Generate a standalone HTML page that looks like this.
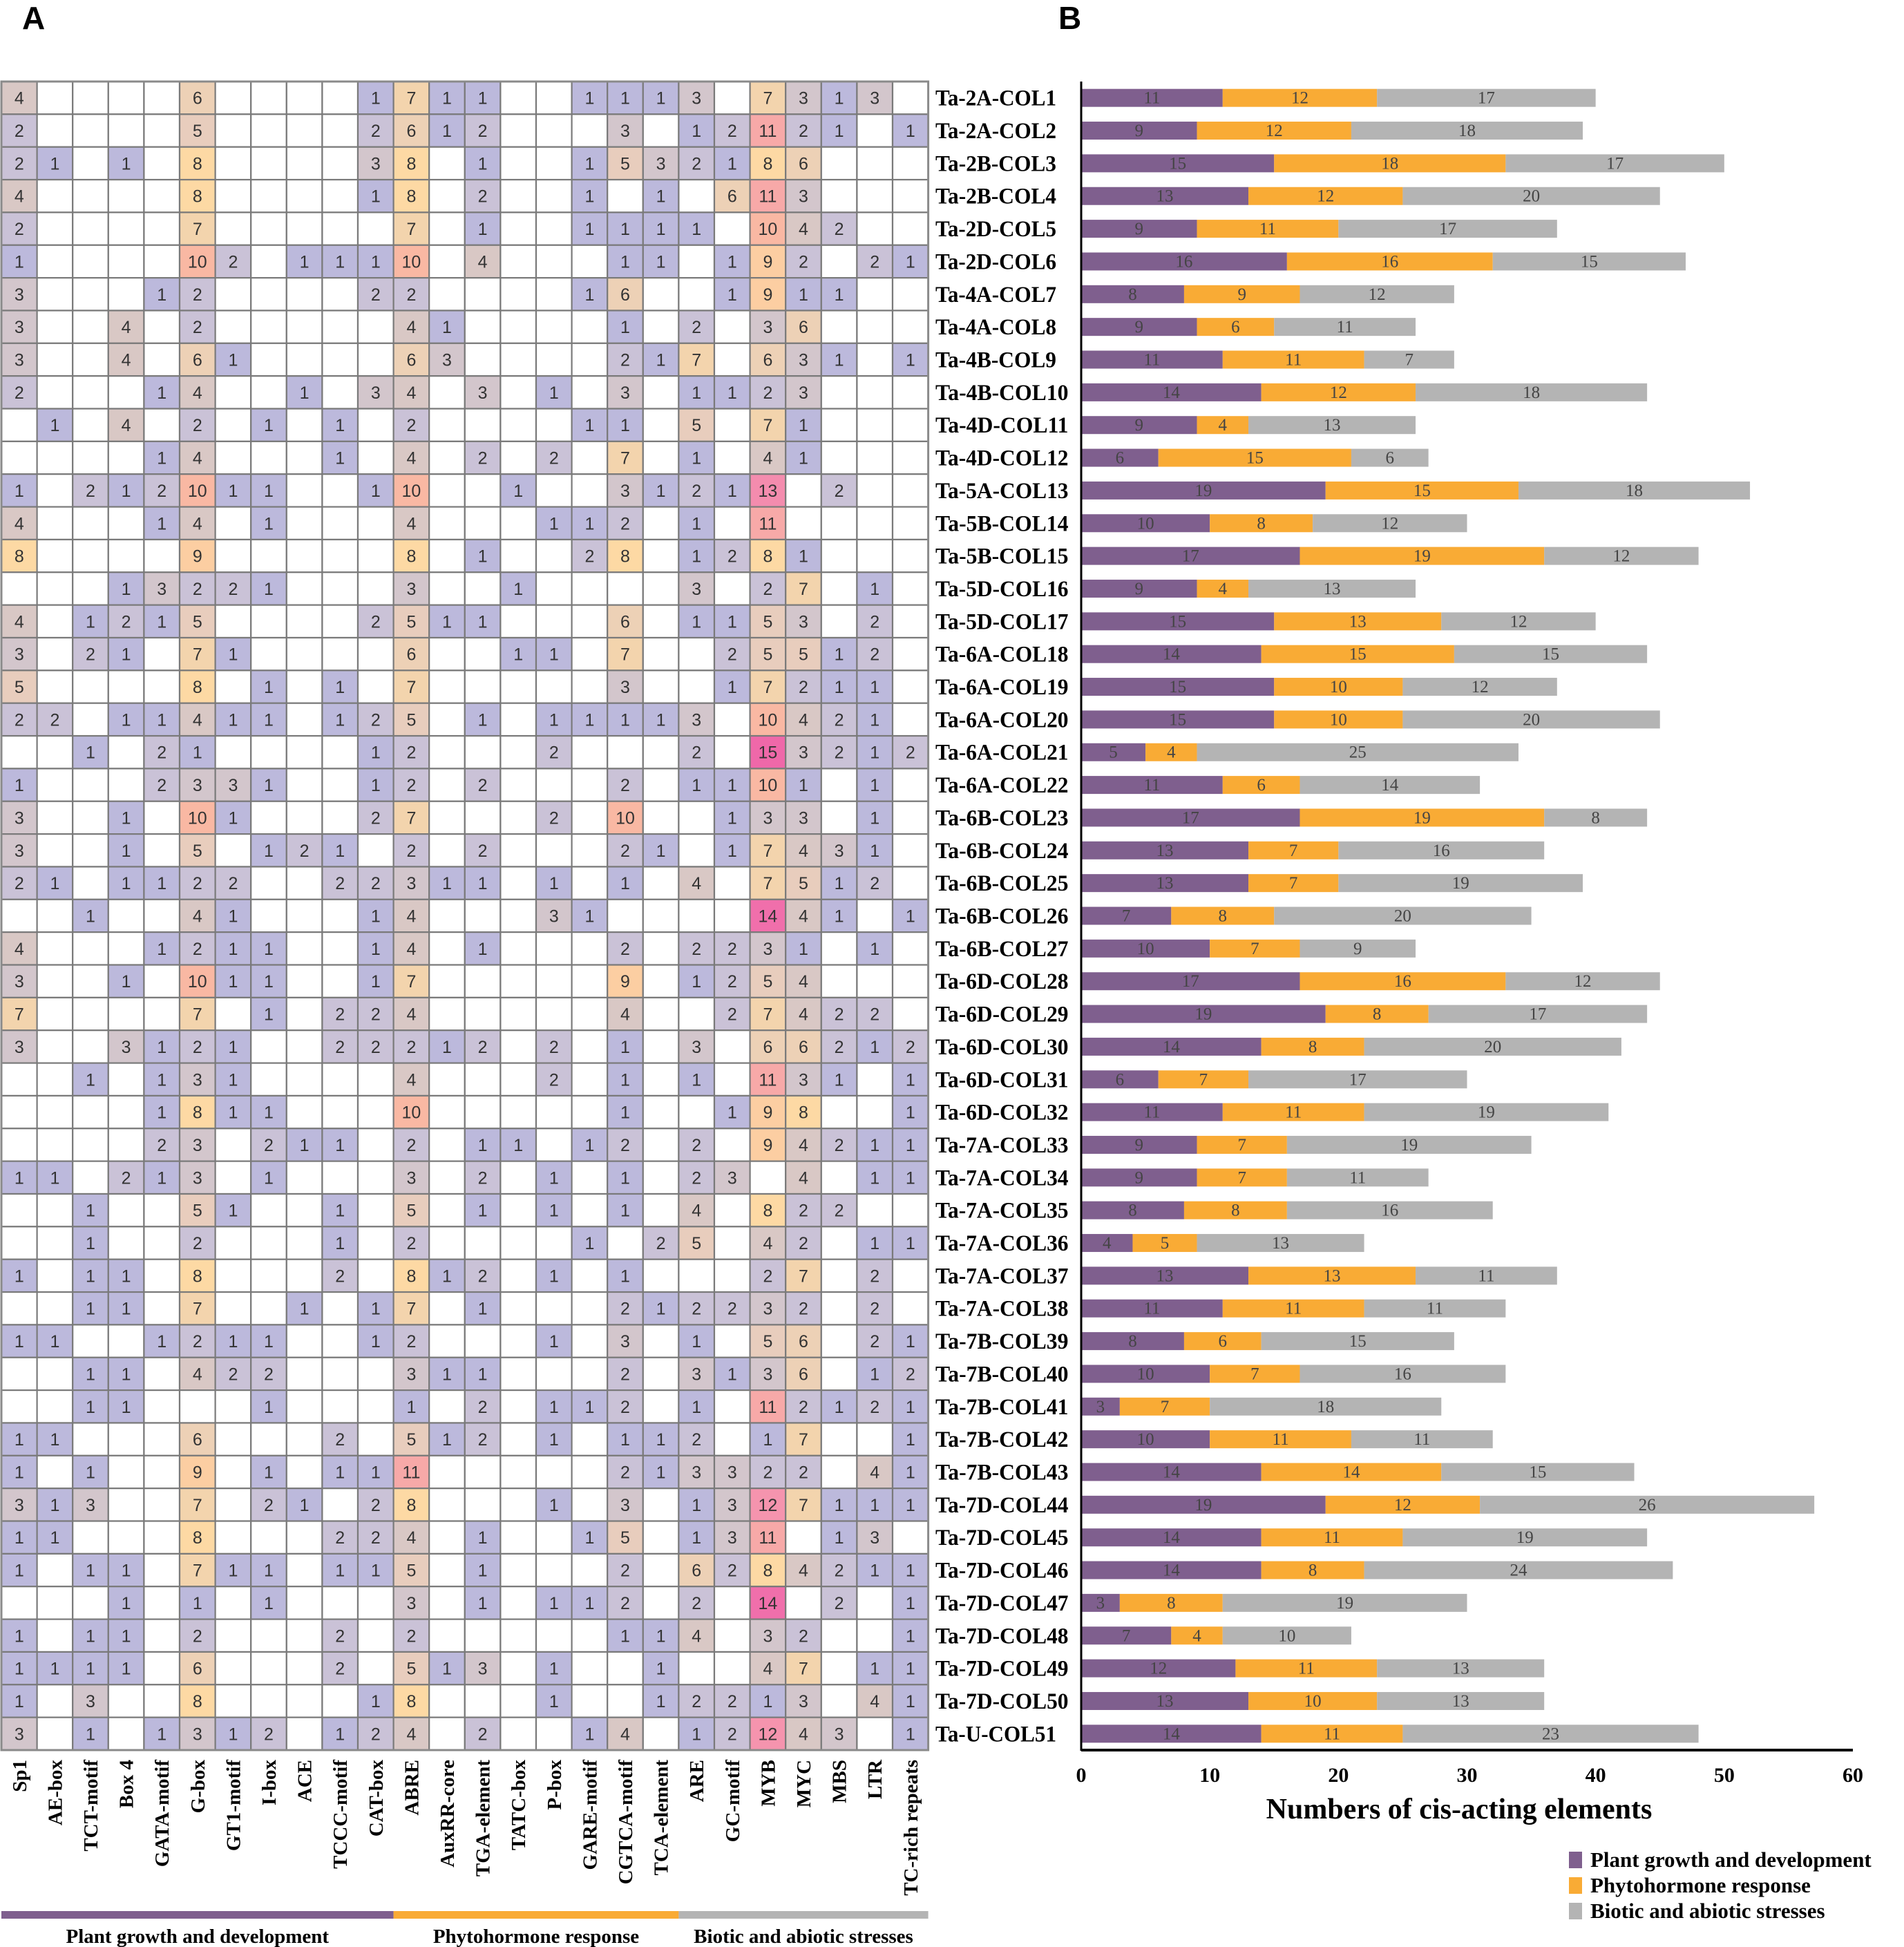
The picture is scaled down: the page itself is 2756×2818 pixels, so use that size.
<!DOCTYPE html>
<html><head><meta charset="utf-8"><style>
html,body{margin:0;padding:0;background:#fff;}
svg{display:block;}
.cell{font-family:"Liberation Sans",sans-serif;font-size:25px;fill:#333;}
.rl{font-family:"Liberation Serif",serif;font-weight:bold;font-size:33px;fill:#000;}
.cl{font-family:"Liberation Serif",serif;font-weight:bold;font-size:29px;fill:#000;}
.bv{font-family:"Liberation Serif",serif;font-size:25px;fill:#444;}
.tk{font-family:"Liberation Serif",serif;font-weight:bold;font-size:30px;fill:#000;}
</style></head><body>
<svg id="fig" width="2756" height="2818" viewBox="0 0 2756 2818" xmlns="http://www.w3.org/2000/svg">
<text x="32" y="42" font-family="Liberation Sans,sans-serif" font-weight="bold" font-size="46">A</text>
<text x="1532" y="42" font-family="Liberation Sans,sans-serif" font-weight="bold" font-size="46">B</text>
<g id="heat"></g>
<g id="bars"></g>
</svg>
<script>
const genes = ["Ta-2A-COL1","Ta-2A-COL2","Ta-2B-COL3","Ta-2B-COL4","Ta-2D-COL5","Ta-2D-COL6","Ta-4A-COL7","Ta-4A-COL8","Ta-4B-COL9","Ta-4B-COL10","Ta-4D-COL11","Ta-4D-COL12","Ta-5A-COL13","Ta-5B-COL14","Ta-5B-COL15","Ta-5D-COL16","Ta-5D-COL17","Ta-6A-COL18","Ta-6A-COL19","Ta-6A-COL20","Ta-6A-COL21","Ta-6A-COL22","Ta-6B-COL23","Ta-6B-COL24","Ta-6B-COL25","Ta-6B-COL26","Ta-6B-COL27","Ta-6D-COL28","Ta-6D-COL29","Ta-6D-COL30","Ta-6D-COL31","Ta-6D-COL32","Ta-7A-COL33","Ta-7A-COL34","Ta-7A-COL35","Ta-7A-COL36","Ta-7A-COL37","Ta-7A-COL38","Ta-7B-COL39","Ta-7B-COL40","Ta-7B-COL41","Ta-7B-COL42","Ta-7B-COL43","Ta-7D-COL44","Ta-7D-COL45","Ta-7D-COL46","Ta-7D-COL47","Ta-7D-COL48","Ta-7D-COL49","Ta-7D-COL50","Ta-U-COL51"];
const elements = ["Sp1","AE-box","TCT-motif","Box 4","GATA-motif","G-box","GT1-motif","I-box","ACE","TCCC-motif","CAT-box","ABRE","AuxRR-core","TGA-element","TATC-box","P-box","GARE-motif","CGTCA-motif","TCA-element","ARE","GC-motif","MYB","MYC","MBS","LTR","TC-rich repeats"];
const counts = [
[4,0,0,0,0,6,0,0,0,0,1,7,1,1,0,0,1,1,1,3,0,7,3,1,3,0],
[2,0,0,0,0,5,0,0,0,0,2,6,1,2,0,0,0,3,0,1,2,11,2,1,0,1],
[2,1,0,1,0,8,0,0,0,0,3,8,0,1,0,0,1,5,3,2,1,8,6,0,0,0],
[4,0,0,0,0,8,0,0,0,0,1,8,0,2,0,0,1,0,1,0,6,11,3,0,0,0],
[2,0,0,0,0,7,0,0,0,0,0,7,0,1,0,0,1,1,1,1,0,10,4,2,0,0],
[1,0,0,0,0,10,2,0,1,1,1,10,0,4,0,0,0,1,1,0,1,9,2,0,2,1],
[3,0,0,0,1,2,0,0,0,0,2,2,0,0,0,0,1,6,0,0,1,9,1,1,0,0],
[3,0,0,4,0,2,0,0,0,0,0,4,1,0,0,0,0,1,0,2,0,3,6,0,0,0],
[3,0,0,4,0,6,1,0,0,0,0,6,3,0,0,0,0,2,1,7,0,6,3,1,0,1],
[2,0,0,0,1,4,0,0,1,0,3,4,0,3,0,1,0,3,0,1,1,2,3,0,0,0],
[0,1,0,4,0,2,0,1,0,1,0,2,0,0,0,0,1,1,0,5,0,7,1,0,0,0],
[0,0,0,0,1,4,0,0,0,1,0,4,0,2,0,2,0,7,0,1,0,4,1,0,0,0],
[1,0,2,1,2,10,1,1,0,0,1,10,0,0,1,0,0,3,1,2,1,13,0,2,0,0],
[4,0,0,0,1,4,0,1,0,0,0,4,0,0,0,1,1,2,0,1,0,11,0,0,0,0],
[8,0,0,0,0,9,0,0,0,0,0,8,0,1,0,0,2,8,0,1,2,8,1,0,0,0],
[0,0,0,1,3,2,2,1,0,0,0,3,0,0,1,0,0,0,0,3,0,2,7,0,1,0],
[4,0,1,2,1,5,0,0,0,0,2,5,1,1,0,0,0,6,0,1,1,5,3,0,2,0],
[3,0,2,1,0,7,1,0,0,0,0,6,0,0,1,1,0,7,0,0,2,5,5,1,2,0],
[5,0,0,0,0,8,0,1,0,1,0,7,0,0,0,0,0,3,0,0,1,7,2,1,1,0],
[2,2,0,1,1,4,1,1,0,1,2,5,0,1,0,1,1,1,1,3,0,10,4,2,1,0],
[0,0,1,0,2,1,0,0,0,0,1,2,0,0,0,2,0,0,0,2,0,15,3,2,1,2],
[1,0,0,0,2,3,3,1,0,0,1,2,0,2,0,0,0,2,0,1,1,10,1,0,1,0],
[3,0,0,1,0,10,1,0,0,0,2,7,0,0,0,2,0,10,0,0,1,3,3,0,1,0],
[3,0,0,1,0,5,0,1,2,1,0,2,0,2,0,0,0,2,1,0,1,7,4,3,1,0],
[2,1,0,1,1,2,2,0,0,2,2,3,1,1,0,1,0,1,0,4,0,7,5,1,2,0],
[0,0,1,0,0,4,1,0,0,0,1,4,0,0,0,3,1,0,0,0,0,14,4,1,0,1],
[4,0,0,0,1,2,1,1,0,0,1,4,0,1,0,0,0,2,0,2,2,3,1,0,1,0],
[3,0,0,1,0,10,1,1,0,0,1,7,0,0,0,0,0,9,0,1,2,5,4,0,0,0],
[7,0,0,0,0,7,0,1,0,2,2,4,0,0,0,0,0,4,0,0,2,7,4,2,2,0],
[3,0,0,3,1,2,1,0,0,2,2,2,1,2,0,2,0,1,0,3,0,6,6,2,1,2],
[0,0,1,0,1,3,1,0,0,0,0,4,0,0,0,2,0,1,0,1,0,11,3,1,0,1],
[0,0,0,0,1,8,1,1,0,0,0,10,0,0,0,0,0,1,0,0,1,9,8,0,0,1],
[0,0,0,0,2,3,0,2,1,1,0,2,0,1,1,0,1,2,0,2,0,9,4,2,1,1],
[1,1,0,2,1,3,0,1,0,0,0,3,0,2,0,1,0,1,0,2,3,0,4,0,1,1],
[0,0,1,0,0,5,1,0,0,1,0,5,0,1,0,1,0,1,0,4,0,8,2,2,0,0],
[0,0,1,0,0,2,0,0,0,1,0,2,0,0,0,0,1,0,2,5,0,4,2,0,1,1],
[1,0,1,1,0,8,0,0,0,2,0,8,1,2,0,1,0,1,0,0,0,2,7,0,2,0],
[0,0,1,1,0,7,0,0,1,0,1,7,0,1,0,0,0,2,1,2,2,3,2,0,2,0],
[1,1,0,0,1,2,1,1,0,0,1,2,0,0,0,1,0,3,0,1,0,5,6,0,2,1],
[0,0,1,1,0,4,2,2,0,0,0,3,1,1,0,0,0,2,0,3,1,3,6,0,1,2],
[0,0,1,1,0,0,0,1,0,0,0,1,0,2,0,1,1,2,0,1,0,11,2,1,2,1],
[1,1,0,0,0,6,0,0,0,2,0,5,1,2,0,1,0,1,1,2,0,1,7,0,0,1],
[1,0,1,0,0,9,0,1,0,1,1,11,0,0,0,0,0,2,1,3,3,2,2,0,4,1],
[3,1,3,0,0,7,0,2,1,0,2,8,0,0,0,1,0,3,0,1,3,12,7,1,1,1],
[1,1,0,0,0,8,0,0,0,2,2,4,0,1,0,0,1,5,0,1,3,11,0,1,3,0],
[1,0,1,1,0,7,1,1,0,1,1,5,0,1,0,0,0,2,0,6,2,8,4,2,1,1],
[0,0,0,1,0,1,0,1,0,0,0,3,0,1,0,1,1,2,0,2,0,14,0,2,0,1],
[1,0,1,1,0,2,0,0,0,2,0,2,0,0,0,0,0,1,1,4,0,3,2,0,0,1],
[1,1,1,1,0,6,0,0,0,2,0,5,1,3,0,1,0,0,1,0,0,4,7,0,1,1],
[1,0,3,0,0,8,0,0,0,0,1,8,0,0,0,1,0,0,1,2,2,1,3,0,4,1],
[3,0,1,0,1,3,1,2,0,1,2,4,0,2,0,0,1,4,0,1,2,12,4,3,0,1]
];
const growth = [11,9,15,13,9,16,8,9,11,14,9,6,19,10,17,9,15,14,15,15,5,11,17,13,13,7,10,17,19,14,6,11,9,9,8,4,13,11,8,10,3,10,14,19,14,14,3,7,12,13,14];
const hormone = [12,12,18,12,11,16,9,6,11,12,4,15,15,8,19,4,13,15,10,10,4,6,19,7,7,8,7,16,8,8,7,11,7,7,8,5,13,11,6,7,7,11,14,12,11,8,8,4,11,10,11];
const stress = [17,18,17,20,17,15,12,11,7,18,13,6,18,12,12,13,12,15,12,20,25,14,8,16,19,20,9,12,17,20,17,19,19,11,16,13,11,11,15,16,18,11,15,26,19,24,19,10,13,13,23];
const xTicks = [0,10,20,30,40,50,60];
const categories = ["Plant growth and development","Phytohormone response","Biotic and abiotic stresses"];
const categorySpans = [11,8,7];

const NS="http://www.w3.org/2000/svg";
function mk(tag,attrs,parent,txt){const e=document.createElementNS(NS,tag);for(const k in attrs)e.setAttribute(k,attrs[k]);if(txt!==undefined)e.textContent=txt;parent.appendChild(e);return e;}
const H0=118, RH=(2533-118)/51, HX=2, CW=51.6;
function rowY(i){return H0+RH*i;}
function colX(j){return HX+CW*j;}
function heatColor(v){
  const m={1:"#bcb9dc",2:"#cac2d7",3:"#d3c6cc",4:"#d9c8c5",5:"#e8cdbd",6:"#edd1b6",7:"#f3d4ad",8:"#fdd9a4",9:"#fccea2",10:"#f9b8a3",11:"#f7a9a8",12:"#f594ae",13:"#f48cae",14:"#f06fab",15:"#ef68a9"};
  return v>0?(m[v]||"#ef68a9"):"#ffffff";
}
const heat=document.getElementById('heat');
for(let i=0;i<counts.length;i++){
  for(let j=0;j<elements.length;j++){
    const v=counts[i][j];
    const r=mk('rect',{x:colX(j),y:rowY(i),width:CW,height:RH,fill:heatColor(v),stroke:"#7a7a7a","stroke-width":2.2},heat);
    
    
    if(v>0){
      const t=mk('text',{x:colX(j)+CW/2,y:rowY(i)+RH/2+9,"text-anchor":"middle",class:"cell"},heat,String(v));
      
      
    }
  }
  const l=mk('text',{x:1354,y:rowY(i)+RH/2+11,class:"rl",textLength:String(genes[i]).length*17.5,lengthAdjust:"spacingAndGlyphs"},heat,genes[i]);
  
  
}
mk('rect',{x:HX,y:H0,width:CW*26,height:RH*51,fill:"none",stroke:"#8a8a8a","stroke-width":3},heat);
for(let j=0;j<elements.length;j++){
  const cx=colX(j)+CW/2+10;
  const t=mk('text',{x:cx,y:2547,transform:`rotate(-90 ${cx} 2547)`,"text-anchor":"end",class:"cl"},heat,elements[j]);
  
  
}
const catColors=["#7f5f8e","#f9ab35","#b4b4b4"];
let c0=0;
for(let k=0;k<categories.length;k++){
  const x0=colX(c0), x1=colX(c0+categorySpans[k]);
  const r=mk('rect',{x:x0,y:2766,width:x1-x0,height:11,fill:catColors[k]},heat);
  
  
  const t=mk('text',{x:(x0+x1)/2,y:2812,"text-anchor":"middle",class:"tk",style:"font-size:29px"},heat,categories[k]);
  
  
  c0+=categorySpans[k];
}
const bars=document.getElementById('bars');
const AX0=1565, PXU=(2682-1565)/60, BH=26;
function xs(v){return AX0+v*PXU;}
const series=[growth,hormone,stress];
for(let i=0;i<genes.length;i++){
  let acc=0;
  const cy=rowY(i)+RH/2;
  for(let s=0;s<3;s++){
    const v=series[s][i];
    const r=mk('rect',{x:xs(acc),y:cy-BH/2,width:xs(acc+v)-xs(acc),height:BH,fill:catColors[s]},bars);
    
    
    const t=mk('text',{x:(xs(acc)+xs(acc+v))/2,y:cy+8,"text-anchor":"middle",class:"bv"},bars,String(v));
    
    
    acc+=v;
  }
}
const ya=mk('line',{x1:AX0,y1:118,x2:AX0,y2:2534,stroke:"#000","stroke-width":3},bars);


const xa=mk('line',{x1:AX0,y1:2533,x2:xs(60),y2:2533,stroke:"#000","stroke-width":4},bars);


for(const v of xTicks){
  const t=mk('text',{x:xs(v),y:2579,"text-anchor":"middle",class:"tk"},bars,String(v));
  
  
}
const at=mk('text',{x:2112,y:2632,"text-anchor":"middle",class:"tk",style:"font-size:42px"},bars,"Numbers of cis-acting elements");


for(let k=0;k<categories.length;k++){
  const y=2692+k*37;
  const r=mk('rect',{x:2271,y:y-12,width:19,height:24,fill:catColors[k]},bars);
  
  
  const t=mk('text',{x:2302,y:y+10,class:"tk",style:"font-size:31px"},bars,categories[k]);
  
  
}
</script>
</body></html>
